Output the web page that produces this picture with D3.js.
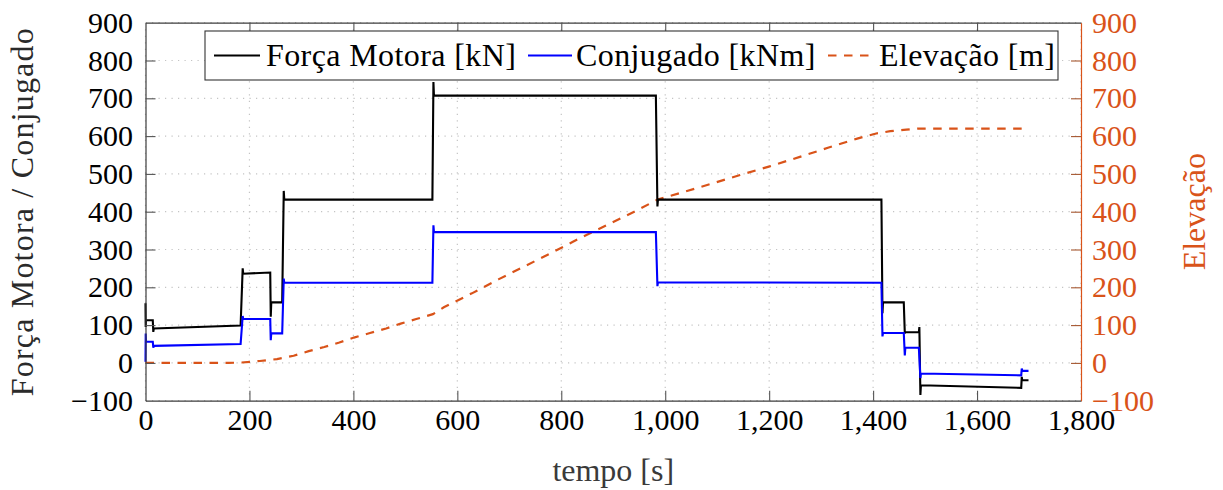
<!DOCTYPE html>
<html>
<head>
<meta charset="utf-8">
<script src="https://cdn.jsdelivr.net/npm/d3@7"></script>
<style>
  html, body { margin: 0; padding: 0; background: #fff; }
  svg { display: block; }
  svg text { font-family: "Liberation Serif", "Times New Roman", Tinos, "DejaVu Serif", "Noto Serif", serif; }
</style>
</head>
<body>
<svg id="chart" width="1223" height="490"></svg>
<script>
// Tractive force [kN] over time [s]
const forceTime = [0, 0.4, 1, 14, 15, 16, 183, 187, 188, 240, 241, 242, 263, 266, 267, 552, 554, 555,
                   982, 985, 986, 1416, 1418, 1419, 1459, 1461, 1462, 1488, 1489, 1491, 1492, 1685, 1686, 1687, 1699];
const force = [158, 95, 113, 113, 82, 91, 99, 250, 236, 239, 122, 160, 160, 455, 432, 432, 743, 707,
               707, 414, 432, 432, 131, 160, 160, 78, 81, 81, 95, -85, -59, -66, -37, -46, -46];

// Torque [kNm] over time [s]
const torqueTime = [0, 0.4, 1, 14, 15, 16, 183, 187, 188, 240, 241, 242, 263, 266, 267, 552, 554, 555,
                    982, 985, 986, 1416, 1418, 1419, 1459, 1461, 1462, 1488, 1491, 1492, 1685, 1686, 1687, 1699];
const torque = [3, 78, 56, 56, 40, 45, 50, 124, 116, 116, 60, 78, 78, 223, 212, 212, 364, 346,
                346, 203, 213, 212, 70, 79, 79, 20, 40, 40, -40, -28, -33, -15, -21, -21];

// Elevation [m] over time [s]
const elevTime = [0, 160, 185, 220, 253, 285, 314, 344, 373, 401, 432, 463, 491, 521, 553, 574, 628, 679,
                  733, 788, 836, 887, 945, 985, 1035, 1089, 1144, 1201, 1259, 1313, 1371, 1406, 1433, 1464, 1485, 1698];
const elevation = [0, 0, 1, 5, 10, 19, 31, 42, 54, 67, 79, 91, 104, 116, 129, 147, 184, 221,
                   258, 296, 330, 364, 403, 432, 452, 474, 497, 520, 545, 569, 594, 607, 613, 617, 620, 620];

const xTicks = [0, 200, 400, 600, 800, 1000, 1200, 1400, 1600, 1800];
const yTicks = [-100, 0, 100, 200, 300, 400, 500, 600, 700, 800, 900];
const seriesNames = ["Força Motora [kN]", "Conjugado [kNm]", "Elevação [m]"];
const axisLabels = { x: "tempo [s]", yLeft: "Força Motora / Conjugado", yRight: "Elevação" };

(function draw() {
  const orange = "#D95319";
  const frameColor = "#3c3c3c";
  const serif = "'Liberation Serif', 'Times New Roman', Tinos, 'DejaVu Serif', 'Noto Serif', serif";

  const svg = d3.select("#chart");
  const pl = 145.5, pr = 1081, pt = 22.7, pb = 400.7;

  const x = d3.scaleLinear().domain([0, 1800]).range([pl, pr]);
  const yL = d3.scaleLinear().domain([-100, 900]).range([pb, pt]);
  const yR = d3.scaleLinear().domain([-100, 900]).range([pb, pt]);

  // grid
  const grid = svg.append("g")
    .attr("stroke", "#c4c4c4").attr("stroke-width", 1.2).attr("stroke-dasharray", "1.2,5.3");
  grid.selectAll("line.v").data(xTicks).join("line").attr("class", "v")
    .attr("x1", d => x(d)).attr("x2", d => x(d)).attr("y1", pt).attr("y2", pb);
  grid.selectAll("line.h").data(yTicks).join("line").attr("class", "h")
    .attr("x1", pl).attr("x2", pr).attr("y1", d => yL(d)).attr("y2", d => yL(d));

  // series
  const fmtTick = d3.format(",");
  const lineOf = (ts, vs, ys) => d3.line().x(i => x(ts[i])).y(i => ys(vs[i]))(d3.range(ts.length));

  svg.append("path").attr("d", lineOf(elevTime, elevation, yR))
    .attr("fill", "none").attr("stroke", orange).attr("stroke-width", 2.2)
    .attr("stroke-dasharray", "8.5,7.5");
  svg.append("path").attr("d", lineOf(forceTime, force, yL))
    .attr("fill", "none").attr("stroke", "#000").attr("stroke-width", 2.1);
  svg.append("path").attr("d", lineOf(torqueTime, torque, yL))
    .attr("fill", "none").attr("stroke", "#0000ff").attr("stroke-width", 2.1);

  // axes
  const gBottom = svg.append("g").attr("transform", `translate(0,${pb})`)
    .call(d3.axisBottom(x).tickValues(xTicks).tickFormat(fmtTick).tickSize(-10).tickSizeOuter(0).tickPadding(8));
  const gTop = svg.append("g").attr("transform", `translate(0,${pt})`)
    .call(d3.axisTop(x).tickValues(xTicks).tickFormat("").tickSize(-10).tickSizeOuter(0));
  const gLeft = svg.append("g").attr("transform", `translate(${pl},0)`)
    .call(d3.axisLeft(yL).tickValues(yTicks).tickSize(-10).tickSizeOuter(0).tickPadding(12.5));
  const gRight = svg.append("g").attr("transform", `translate(${pr},0)`)
    .call(d3.axisRight(yR).tickValues(yTicks).tickSize(-10).tickSizeOuter(0).tickPadding(11));

  [gBottom, gTop, gLeft, gRight].forEach(g => {
    g.attr("font-family", serif).attr("font-size", null);
    g.selectAll("text").attr("font-family", serif).attr("font-size", 30).attr("fill", "#000");
    g.selectAll(".tick line").attr("stroke", "#555").attr("stroke-width", 1.1);
    g.select(".domain").attr("stroke", frameColor).attr("stroke-width", 1.2);
  });
  gRight.selectAll("text").attr("fill", orange);
  gRight.selectAll(".tick line").attr("stroke", "#a5562f");
  gRight.select(".domain").attr("stroke", orange);
  gBottom.selectAll(".tick").filter(d => d === 0 || d === 1800).select("line").remove();
  gTop.selectAll(".tick").filter(d => d === 0 || d === 1800).select("line").remove();
  gLeft.selectAll(".tick").filter(d => d === -100 || d === 900).select("line").remove();
  gRight.selectAll(".tick").filter(d => d === -100 || d === 900).select("line").remove();

  // axis labels
  svg.append("text").text(axisLabels.x)
    .attr("x", (pl + pr) / 2).attr("y", 481).attr("text-anchor", "middle")
    .attr("font-family", serif).attr("font-size", 32).attr("fill", "#3a3a3a");
  svg.append("text").text(axisLabels.yLeft)
    .attr("transform", `translate(33,${(pt + pb) / 2}) rotate(-90)`).attr("text-anchor", "middle")
    .attr("font-family", serif).attr("font-size", 32).attr("letter-spacing", 1.2).attr("fill", "#2a2a2a");
  svg.append("text").text(axisLabels.yRight)
    .attr("transform", `translate(1205,${(pt + pb) / 2}) rotate(-90)`).attr("text-anchor", "middle")
    .attr("font-family", serif).attr("font-size", 32).attr("fill", orange);

  // legend
  const legend = svg.append("g");
  legend.append("rect").attr("x", 205).attr("y", 31).attr("width", 853).attr("height", 49)
    .attr("fill", "#fff").attr("stroke", "#333").attr("stroke-width", 1.1);
  const legendItems = [
    { name: seriesNames[0], color: "#000", dash: null, x0: 214, x1: 260, tx: 266 },
    { name: seriesNames[1], color: "#0000ff", dash: null, x0: 528, x1: 572, tx: 576 },
    { name: seriesNames[2], color: orange, dash: "8.5,7.5", x0: 828, x1: 870, tx: 879 }
  ];
  legendItems.forEach(it => {
    legend.append("line").attr("x1", it.x0).attr("x2", it.x1).attr("y1", 55.5).attr("y2", 55.5)
      .attr("stroke", it.color).attr("stroke-width", 2.2).attr("stroke-dasharray", it.dash);
    legend.append("text").text(it.name).attr("x", it.tx).attr("y", 66)
      .attr("font-family", serif).attr("font-size", 32).attr("letter-spacing", 0.4).attr("fill", "#000");
  });
})();
</script>
</body>
</html>
